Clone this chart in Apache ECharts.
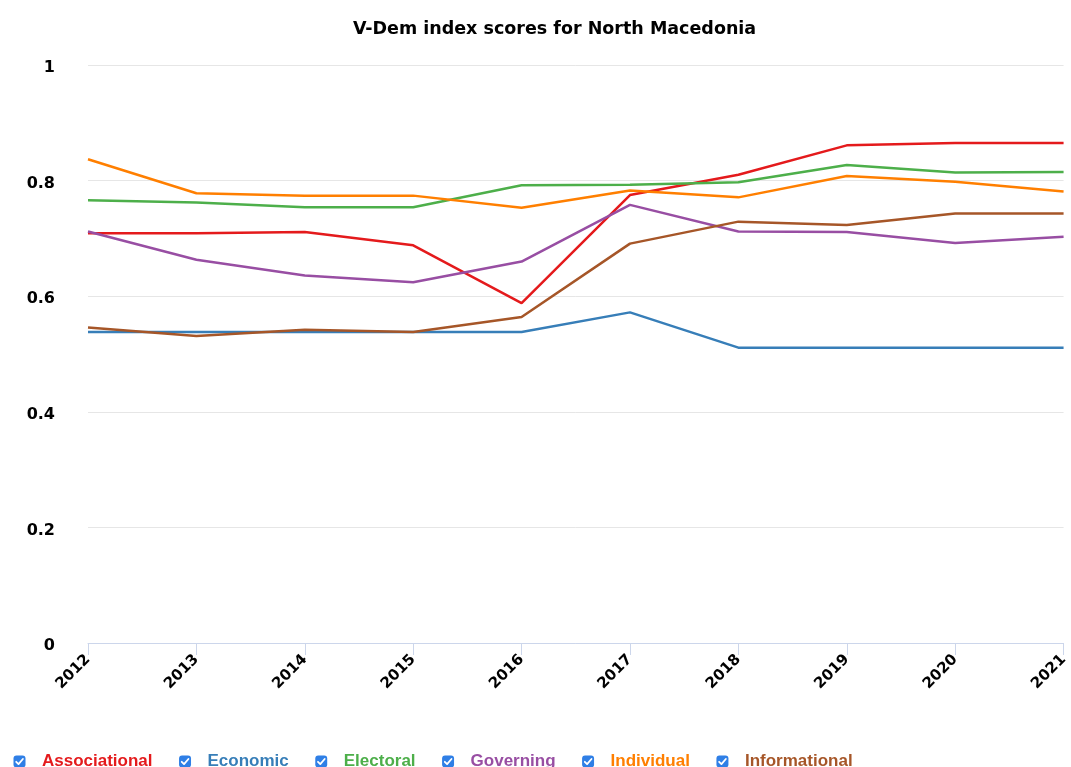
<!DOCTYPE html>
<html>
<head>
<meta charset="utf-8">
<script src="https://cdn.jsdelivr.net/npm/echarts@6/dist/echarts.min.js"></script>
<style>
  html, body { margin: 0; padding: 0; background: #fff; }
  #chart { width: 1071px; height: 767px; }
</style>
</head>
<body>
<div id="chart"></div>
<script>
// years on the x axis
const years = ["2012", "2013", "2014", "2015", "2016", "2017", "2018", "2019", "2020", "2021"];

// index scores
const associational = [0.709, 0.709, 0.711, 0.688, 0.588, 0.775, 0.810, 0.861, 0.865, 0.865];
const economic      = [0.538, 0.538, 0.538, 0.538, 0.538, 0.572, 0.511, 0.511, 0.511, 0.511];
const electoral     = [0.766, 0.762, 0.754, 0.754, 0.792, 0.793, 0.797, 0.827, 0.814, 0.815];
const governing     = [0.712, 0.663, 0.636, 0.624, 0.660, 0.758, 0.712, 0.711, 0.692, 0.703];
const individual    = [0.837, 0.778, 0.774, 0.774, 0.753, 0.783, 0.771, 0.808, 0.798, 0.781];
const informational = [0.546, 0.531, 0.542, 0.538, 0.564, 0.691, 0.729, 0.723, 0.743, 0.743];

const names = ["Associational", "Economic", "Electoral", "Governing", "Individual", "Informational"];
const colors = ["#e41a1c", "#377eb8", "#4daf4a", "#984ea3", "#ff7f00", "#a65628"];
const values = [associational, economic, electoral, governing, individual, informational];

// checkbox icon for the legend
const checkSvg = '<svg xmlns="http://www.w3.org/2000/svg" width="13" height="13" viewBox="0 0 13 13">' +
  '<rect x="0.5" y="0.5" width="12" height="12" rx="3" fill="#2f7fe6"/>' +
  '<path d="M3.2 6.8 L5.5 9.1 L9.9 4" stroke="#fff" stroke-width="1.8" fill="none" stroke-linecap="round" stroke-linejoin="round"/></svg>';
const checkIcon = "image://data:image/svg+xml;charset=utf-8," + encodeURIComponent(checkSvg);

const chart = echarts.init(document.getElementById("chart"), null, { renderer: "canvas" });

let option = {
  animation: false,
  color: colors,
  title: {
    text: "V-Dem index scores for North Macedonia",
    left: 348,
    top: 15,
    textStyle: {
      fontFamily: "DejaVu Sans",
      fontWeight: "bold",
      fontSize: 17.5,
      color: "#000"
    }
  },
  legend: {
    left: 13,
    top: 753,
    padding: 0,
    icon: checkIcon,
    itemWidth: 13,
    itemHeight: 13,
    itemGap: 26,
    textStyle: { fontFamily: "Liberation Sans", fontWeight: "bold", fontSize: 17, padding: [0, 0, 0, 11] },
    data: names.map((n, i) => ({ name: n, textStyle: { color: colors[i] } }))
  },
  grid: {
    left: 88,
    right: 5,
    top: 65,
    bottom: 124,
    containLabel: false
  },
  xAxis: {
    type: "category",
    boundaryGap: false,
    data: years,
    axisLine: { lineStyle: { color: "#ccd6eb", width: 1 } },
    axisTick: { show: true, alignWithLabel: true, length: 12, lineStyle: { color: "#ccd6eb" } },
    axisLabel: {
      rotate: 45,
      margin: 14,
      fontFamily: "DejaVu Sans",
      fontWeight: "bold",
      fontSize: 15,
      color: "#000"
    }
  },
  yAxis: {
    type: "value",
    min: 0,
    max: 1,
    interval: 0.2,
    axisLine: { show: false },
    axisTick: { show: false },
    splitLine: { lineStyle: { color: "#e6e6e6", width: 1 } },
    axisLabel: {
      margin: 33,
      formatter: v => "{v|" + v + "}",
      rich: {
        v: {
          fontFamily: "DejaVu Sans",
          fontWeight: "bold",
          fontSize: 16,
          color: "#000",
          padding: [6, 0, 0, 0]
        }
      }
    }
  },
  series: names.map((n, i) => ({
    name: n,
    type: "line",
    data: values[i],
    showSymbol: false,
    lineStyle: { width: 2.5 },
    emphasis: { disabled: true }
  }))
};

chart.setOption(option);
</script>
</body>
</html>
